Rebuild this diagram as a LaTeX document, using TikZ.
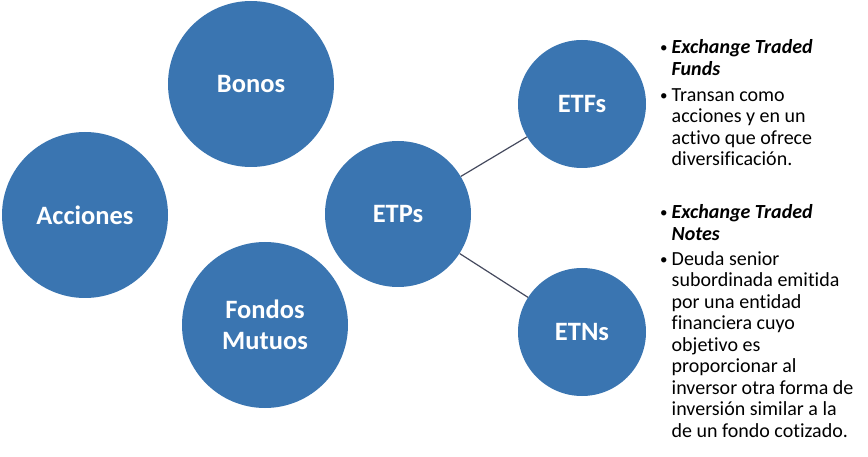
\documentclass[tikz,border=0pt]{standalone}
\usepackage{fontspec}
\setmainfont{Carlito}[Ligatures=NoCommon]
\usepackage{tikz}
\usetikzlibrary{positioning}
\definecolor{etpblue}{HTML}{3A75B1}
\definecolor{linkgray}{HTML}{454A5E}
\newcommand{\bfit}[1]{\textbf{\textit{#1}}}
\newcommand{\dotmark}{\makebox[11.5pt][l]{\raisebox{1.2pt}{\fontsize{15}{15}\selectfont\textbullet}}}

\begin{document}
\begin{tikzpicture}[x=1pt,y=-1pt,
  bubble/.style={circle,fill=etpblue,text=white,inner sep=0pt,align=center,
                 font=\fontsize{26.5}{31}\selectfont\bfseries},
  link/.style={draw=linkgray,line width=1.2pt},
  notes/.style={anchor=base west,inner sep=0pt,
                font=\fontsize{20}{21.5}\selectfont}]
  \useasboundingbox (0,0) rectangle (868,457);
  \node[bubble,minimum size=166pt] (acciones) at (85,215) {Acciones};
  \node[bubble,minimum size=166pt] (bonos) at (251,84) {Bonos};
  \node[bubble,minimum size=166pt] (fondos) at (265,325) {Fondos\\Mutuos};
  \node[bubble,minimum size=146pt] (etps) at (398,214) {ETPs};
  \node[bubble,minimum size=128pt] (etfs) at (582,104) {ETFs};
  \node[bubble,minimum size=128pt] (etns) at (582,332) {ETNs};
  \draw[link] (etps) -- (etfs);
  \draw[link] (etps) -- (etns);
  \node[notes] (etfnote) at (660,54) {\begin{tabular}[t]{@{}l@{}l@{}}
    \dotmark & \bfit{Exchange Traded}\\
             & \bfit{Funds}\\[4.5pt]
    \dotmark & Transan como\\
             & acciones y en un\\
             & activo que ofrece\\
             & diversificación.
  \end{tabular}};
  \node[notes] (etnnote) at (660,219) {\begin{tabular}[t]{@{}l@{}l@{}}
    \dotmark & \bfit{Exchange Traded}\\
             & \bfit{Notes}\\[3.5pt]
    \dotmark & Deuda senior\\
             & subordinada emitida\\
             & por una entidad\\
             & financiera cuyo\\
             & objetivo es\\
             & proporcionar al\\
             & inversor otra forma de\\
             & inversión similar a la\\
             & de un fondo cotizado.
  \end{tabular}};
\end{tikzpicture}
\end{document}
